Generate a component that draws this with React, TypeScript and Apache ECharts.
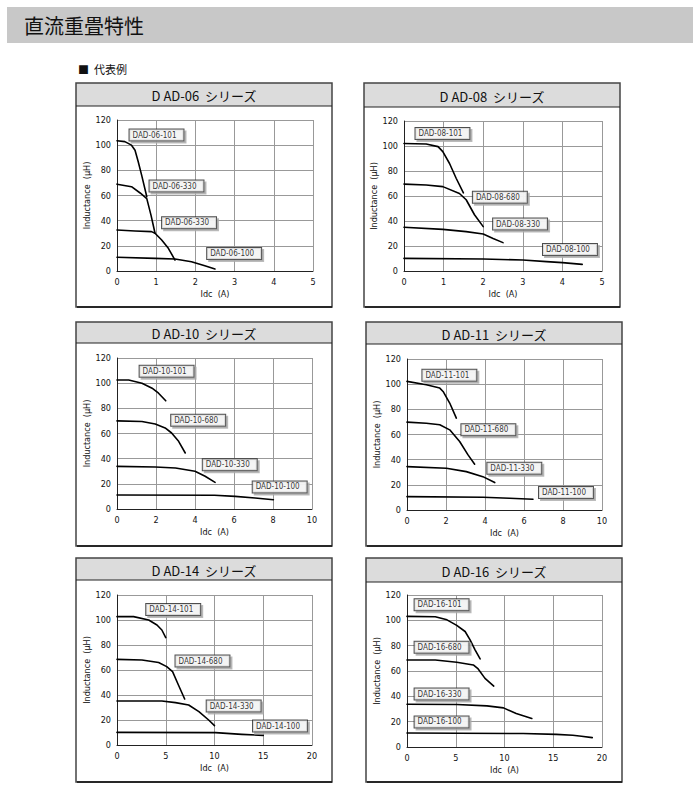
import React, { useEffect, useRef } from "react";
import * as echarts from "echarts";

// ---- data (Idc [A], Inductance [uH]) ----
const panelTitles = ["D AD-06  シリーズ", "D AD-08  シリーズ", "D AD-10  シリーズ", "D AD-11  シリーズ", "D AD-14  シリーズ", "D AD-16  シリーズ"];
const xMaxes = [5, 5, 10, 10, 20, 20];
const xIntervals = [1, 1, 2, 2, 5, 5];

const dad06_101 = [[0, 103.5], [0.2, 102.8], [0.37, 100], [0.46, 96], [0.54, 87], [0.63, 76], [0.76, 59]];
const dad06_680 = [[0, 69], [0.37, 67], [0.59, 62], [0.76, 57.5], [0.87, 44], [0.97, 30]];
const dad06_330 = [[0, 32.6], [0.46, 31.8], [0.88, 31.3], [0.97, 30], [1.14, 24.6], [1.31, 18], [1.48, 8.7]];
const dad06_100 = [[0, 10.9], [0.97, 10], [1.48, 9.5], [1.9, 7.4], [2.24, 4.2], [2.5, 1.6]];

const dad08_101 = [[0, 102], [0.56, 101.6], [0.86, 99.5], [0.98, 95.5], [1.15, 86], [1.32, 74], [1.5, 62.5]];
const dad08_680 = [[0, 69.5], [0.56, 68.8], [0.98, 67.5], [1.4, 62], [1.57, 57], [1.78, 45], [2.0, 35.5]];
const dad08_330 = [[0, 35], [0.98, 33.3], [1.57, 31.5], [2.0, 29.6], [2.25, 26], [2.5, 22.7]];
const dad08_100 = [[0, 10.1], [2.0, 9.6], [3.0, 8.8], [3.6, 7.5], [4.0, 6.7], [4.5, 5.3]];

const dad10_101 = [[0, 102.5], [0.6, 102.5], [1.28, 100], [1.8, 96], [2.13, 92], [2.5, 86]];
const dad10_680 = [[0, 70], [1.28, 69.5], [1.96, 67.5], [2.47, 64.4], [2.8, 60.4], [3.16, 53.8], [3.5, 44.5]];
const dad10_330 = [[0, 33.9], [1.96, 33.4], [3.0, 32.6], [4.0, 30], [4.52, 26], [5.03, 21.2]];
const dad10_100 = [[0, 11.1], [5.0, 10.9], [6.06, 10], [7.08, 8.7], [8.02, 7.4]];

const dad11_101 = [[0, 102.2], [0.99, 99.5], [1.68, 96.9], [1.85, 94.2], [2.19, 85], [2.53, 73]];
const dad11_680 = [[0, 69.8], [0.99, 69], [1.68, 67.7], [2.19, 63.7], [2.7, 54.4], [3.13, 43.8], [3.47, 36.4]];
const dad11_330 = [[0, 34.5], [2.02, 33.2], [3.04, 30.5], [3.89, 26.5], [4.5, 21.8]];
const dad11_100 = [[0, 10.6], [3.9, 10.1], [5.26, 9.3], [6.46, 8.5]];

const dad14_101 = [[0, 102.7], [1.7, 102.7], [3.25, 100], [4.1, 96], [4.6, 92], [5.0, 85.9]];
const dad14_680 = [[0, 68.5], [2.56, 68], [4.27, 66], [5.1, 62.7], [5.7, 58.7], [6.3, 48], [6.94, 36.8]];
const dad14_330 = [[0, 35.2], [4.6, 35.2], [6.0, 33.9], [7.35, 32], [8.4, 26.7], [9.4, 20], [10.0, 15.5]];
const dad14_100 = [[0, 10.1], [10.1, 9.9], [12.8, 8.5], [15.0, 7.7]];

const dad16_101 = [[0, 103.1], [2.9, 102.8], [4.1, 100.4], [5.1, 96], [5.96, 91.2], [6.47, 84.6], [6.98, 76.7], [7.5, 69.5]];
const dad16_680 = [[0, 68.7], [2.9, 68.7], [5.1, 66.9], [6.8, 64.8], [7.3, 61.6], [8.0, 54.2], [8.9, 48.1]];
const dad16_330 = [[0, 33.8], [5.1, 33.6], [8.2, 32.5], [9.9, 30.9], [11.2, 26.4], [12.8, 22.5]];
const dad16_100 = [[0, 11.1], [11.9, 10.6], [15.3, 10.0], [17.0, 9.3], [17.9, 8.5], [19.0, 7.4]];

const curves = [
  [dad06_101, dad06_680, dad06_330, dad06_100],
  [dad08_101, dad08_680, dad08_330, dad08_100],
  [dad10_101, dad10_680, dad10_330, dad10_100],
  [dad11_101, dad11_680, dad11_330, dad11_100],
  [dad14_101, dad14_680, dad14_330, dad14_100],
  [dad16_101, dad16_680, dad16_330, dad16_100],
];

const labelTexts = [
  ["DAD-06-101", "DAD-06-330", "DAD-06-330", "DAD-06-100"],
  ["DAD-08-101", "DAD-08-680", "DAD-08-330", "DAD-08-100"],
  ["DAD-10-101", "DAD-10-680", "DAD-10-330", "DAD-10-100"],
  ["DAD-11-101", "DAD-11-680", "DAD-11-330", "DAD-11-100"],
  ["DAD-14-101", "DAD-14-680", "DAD-14-330", "DAD-14-100"],
  ["DAD-16-101", "DAD-16-680", "DAD-16-330", "DAD-16-100"],
];
// label anchor (left-middle of box) in data units
const labelAnchors = [
  [[0.32, 108], [0.83, 67.5], [1.15, 38.4], [2.3, 14]],
  [[0.29, 110], [1.74, 59], [2.25, 37.6], [3.51, 17.3]],
  [[1.16, 109.4], [2.78, 70.5], [4.4, 35.2], [6.96, 17.5]],
  [[0.79, 107], [2.79, 63.7], [4.12, 33.2], [6.77, 14]],
  [[3.0, 108.5], [6.0, 67.2], [9.2, 31.2], [13.95, 15.2]],
  [[0.78, 112.3], [0.78, 78.8], [0.78, 41.8], [0.78, 19.8]],
];

// ---- layout ----
const panels = [
  { x: 76, y: 83, w: 256, h: 224, hh: 23, grid: { left: 117, top: 120, width: 196, height: 151 } },
  { x: 364, y: 83, w: 256, h: 224, hh: 24, grid: { left: 404, top: 121, width: 198, height: 150 } },
  { x: 76, y: 322, w: 256, h: 224, hh: 21, grid: { left: 117, top: 358, width: 195, height: 151 } },
  { x: 366, y: 322, w: 256, h: 224, hh: 22, grid: { left: 407, top: 359, width: 195, height: 151 } },
  { x: 76, y: 558, w: 256, h: 224, hh: 22, grid: { left: 117, top: 595, width: 195, height: 150 } },
  { x: 366, y: 558, w: 256, h: 224, hh: 24, grid: { left: 407, top: 595, width: 195, height: 152 } },
];

const narrow = '"Liberation Sans Narrow", "DejaVu Sans Condensed", "Noto Sans", sans-serif';
const jp = '"Noto Sans CJK JP", sans-serif';

export default function App() {
  const ref = useRef<HTMLDivElement>(null);
  useEffect(() => {
    if (!ref.current) return;
    const chart = echarts.init(ref.current, undefined, { renderer: "svg" });
    const grids: any[] = [];
    const xAxes: any[] = [];
    const yAxes: any[] = [];
    const series: any[] = [];
    const graphics: any[] = [
      { type: "rect", shape: { x: 7, y: 7, width: 686, height: 36 }, style: { fill: "#c8c8c8" }, silent: true },
      { type: "text", x: 24, y: 25, style: { text: "直流重畳特性", font: `20px ${jp}`, fill: "#111", verticalAlign: "middle" } },
      { type: "text", x: 78, y: 69, style: { text: "■  代表例", font: `11px ${jp}`, fill: "#111", verticalAlign: "middle" } },
    ];
    panels.forEach((p, i) => {
      grids.push({ ...p.grid, containLabel: false });
      graphics.push(
        { type: "rect", shape: { x: p.x, y: p.y, width: p.w, height: p.hh }, style: { fill: "#dcdcdc" }, silent: true },
        { type: "rect", shape: { x: p.x, y: p.y, width: p.w, height: p.h }, style: { fill: "none", stroke: "#444", lineWidth: 1.5 }, silent: true },
        { type: "line", shape: { x1: p.x + 1, y1: p.y + p.h, x2: p.x + p.w, y2: p.y + p.h }, style: { stroke: "#111", lineWidth: 1.5 }, silent: true },
        { type: "line", shape: { x1: p.x, y1: p.y + p.hh, x2: p.x + p.w, y2: p.y + p.hh }, style: { stroke: "#222", lineWidth: 1 }, silent: true },
        { type: "text", x: p.x + p.w / 2, y: p.y + p.hh / 2 + 1, style: { text: panelTitles[i], font: `13px ${jp}`, fill: "#111", align: "center", verticalAlign: "middle" } }
      );
      xAxes.push({
        gridIndex: i, type: "value", min: 0, max: xMaxes[i], interval: xIntervals[i],
        name: "Idc  (A)", nameLocation: "middle", nameGap: 18,
        nameTextStyle: { fontFamily: narrow, fontSize: 9, color: "#111" },
        axisLine: { show: true, lineStyle: { color: "#222", width: 1 } },
        axisTick: { show: false },
        axisLabel: { fontFamily: narrow, fontSize: 9, color: "#111", margin: 6 },
        splitLine: { show: true, lineStyle: { color: "#999", width: 1 } },
      });
      yAxes.push({
        gridIndex: i, type: "value", min: 0, max: 120, interval: 20,
        name: "Inductance  (μH)", nameLocation: "middle", nameGap: 20, nameRotate: 90,
        nameTextStyle: { fontFamily: narrow, fontSize: 9, color: "#111" },
        axisLine: { show: true, lineStyle: { color: "#222", width: 1 } },
        axisTick: { show: false },
        axisLabel: { fontFamily: narrow, fontSize: 9, color: "#111", margin: 6 },
        splitLine: { show: true, lineStyle: { color: "#999", width: 1 } },
      });
      curves[i].forEach((c) => {
        series.push({
          type: "line", xAxisIndex: i, yAxisIndex: i, data: c, showSymbol: false, symbol: "none",
          smooth: false,
          lineStyle: { color: "#000", width: 1.6, join: "round", cap: "round" }, z: 3,
        });
      });
      series.push({
        type: "scatter", xAxisIndex: i, yAxisIndex: i, symbolSize: 0, z: 5,
        data: labelAnchors[i].map((a, j) => ({ value: a, name: labelTexts[i][j] })),
        label: {
          show: true, position: "right", distance: 0, formatter: "{b}",
          fontFamily: narrow, fontSize: 8, color: "#000",
          backgroundColor: "#fff", borderColor: "#222", borderWidth: 1,
          padding: [2, 7, 1, 3],
          shadowColor: "#aaa", shadowOffsetX: 2, shadowOffsetY: 2, shadowBlur: 0,
        },
      });
    });
    chart.setOption({
      animation: false,
      backgroundColor: "#fff",
      grid: grids,
      xAxis: xAxes,
      yAxis: yAxes,
      series,
      graphic: graphics,
    });
    return () => chart.dispose();
  }, []);
  return <div ref={ref} style={{ position: "absolute", left: 0, top: 0, width: 700, height: 790 }} />;
}
